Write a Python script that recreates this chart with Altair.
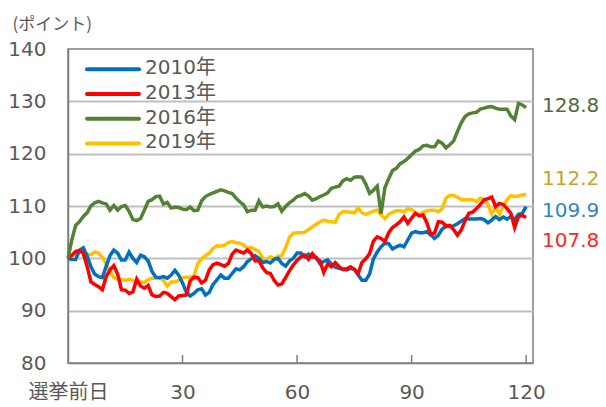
import altair as alt
import pandas as pd

days = list(range(121))

s2010 = [100.0, 99.8, 99.8, 101.5, 102.0, 100.5, 98.4, 97.0, 96.5, 96.3,
         98.5, 100.5, 101.6, 101.0, 99.7, 99.7, 101.2, 100.0, 99.2, 100.6,
         100.3, 99.5, 97.5, 96.4, 96.3, 96.5, 96.2, 96.8, 97.7, 96.8,
         95.3, 93.5, 92.8, 93.3, 94.0, 94.2, 93.0, 93.5, 95.0, 95.9,
         96.8, 96.2, 96.2, 97.1, 98.0, 97.8, 98.4, 99.4, 99.9, 100.5,
         100.0, 99.2, 99.4, 99.1, 99.8, 100.0, 99.0, 98.5, 99.5, 100.0,
         101.0, 101.0, 100.3, 100.8, 100.2, 100.2, 99.0, 99.4, 99.7, 98.9,
         98.3, 98.1, 97.9, 97.8, 98.1, 97.9, 96.8, 95.8, 95.8, 97.0,
         99.9, 101.2, 102.2, 102.9, 102.8, 101.8, 102.2, 102.5, 102.2, 103.5,
         104.8, 105.1, 104.9, 104.9, 105.1, 104.5, 103.8, 104.4, 105.6, 106.1,
         106.1, 106.2, 106.6, 107.1, 107.6, 107.5, 107.5, 107.5, 107.6, 107.4,
         106.8, 107.3, 108.0, 107.4, 107.9, 107.5, 108.0, 107.4, 108.4, 108.6,
         109.9]

s2013 = [100.0, 100.6, 101.3, 101.5, 101.0, 98.5, 95.5, 95.0, 94.6, 94.0,
         96.5, 97.8, 98.6, 97.0, 94.0, 93.9, 93.3, 93.6, 96.0, 94.7,
         94.3, 94.8, 93.0, 92.7, 92.8, 93.5, 93.3, 92.7, 92.1, 92.8,
         92.9, 93.0, 95.7, 96.4, 96.3, 95.3, 95.8, 97.8, 98.8, 99.1,
         98.8, 98.5, 99.0, 100.8, 101.6, 101.3, 101.0, 101.6, 100.9, 99.5,
         99.6, 98.2, 97.3, 97.1, 95.8, 94.9, 95.1, 96.3, 97.6, 98.7,
         99.6, 100.3, 100.6, 99.8, 100.9, 100.0, 99.5, 97.3, 98.9, 98.4,
         99.2, 98.4, 97.9, 98.0, 98.4, 97.9, 97.1, 99.2, 99.9, 100.9,
         103.3, 104.1, 103.8, 103.2, 104.9, 105.9, 106.4, 107.0, 107.9, 106.7,
         107.7, 108.6, 108.1, 108.3, 106.8, 104.6, 104.8, 107.0, 106.9, 106.2,
         106.3, 105.5, 104.4, 105.4, 107.2, 108.6, 108.8, 109.5, 110.3, 111.2,
         111.4, 111.7, 109.9, 110.5, 110.3, 109.5, 108.6, 105.9, 108.0, 108.2,
         107.8]

s2016 = [100.0, 103.5, 106.3, 107.0, 108.0, 108.7, 110.0, 110.6, 110.9, 110.6,
         110.4, 109.2, 110.1, 109.2, 109.9, 110.1, 109.0, 107.4, 107.2, 107.6,
         109.2, 110.9, 111.2, 111.8, 111.9, 110.4, 110.7, 109.6, 109.8, 109.7,
         109.4, 109.3, 109.8, 109.1, 109.2, 111.0, 111.8, 112.2, 112.5, 112.8,
         113.1, 112.9, 112.6, 112.4, 111.5, 110.8, 110.2, 108.9, 109.2, 109.2,
         111.0, 109.8, 110.0, 109.8, 109.9, 110.4, 109.0, 109.9, 110.6, 111.1,
         111.8, 112.0, 112.4, 111.9, 111.1, 111.4, 111.8, 112.1, 112.5, 113.4,
         113.6, 113.8, 114.8, 115.2, 114.9, 115.5, 115.6, 115.5, 114.2, 112.4,
         113.0, 113.8, 108.5, 113.5, 115.2, 116.8, 117.2, 118.1, 118.5, 119.1,
         119.8, 120.5, 120.8, 121.5, 121.6, 121.3, 121.3, 122.4, 122.0, 121.1,
         121.7, 122.4, 124.2, 125.9, 127.1, 127.6, 127.8, 127.9, 128.5, 128.7,
         128.9, 129.0, 128.7, 128.5, 128.5, 128.5, 127.2, 126.5, 129.6, 129.3,
         128.8]

s2019 = [100.0, 100.4, 101.0, 101.3, 101.0, 100.8, 100.7, 101.2, 101.0, 100.2,
         99.0, 97.5, 96.3, 96.0, 96.0, 95.8, 96.0, 95.8, 95.3, 95.5,
         95.4, 95.9, 96.2, 96.2, 96.3, 95.8, 94.7, 95.5, 95.5, 95.8,
         96.3, 96.4, 96.4, 96.6, 99.0, 99.9, 100.5, 101.0, 101.9, 102.4,
         102.3, 102.5, 103.0, 103.2, 103.0, 102.9, 102.5, 102.0, 102.1, 101.7,
         101.3, 100.0, 99.7, 100.3, 99.9, 100.4, 100.5, 102.0, 104.0, 104.8,
         104.9, 104.9, 105.0, 105.5, 106.0, 106.5, 107.0, 107.3, 107.1, 107.0,
         106.9, 108.4, 108.9, 108.9, 108.8, 108.7, 109.6, 108.7, 108.4, 108.7,
         109.0, 109.2, 108.3, 107.6, 108.4, 108.8, 109.1, 109.1, 108.9, 109.5,
         109.3, 108.7, 108.3, 108.8, 109.1, 109.2, 109.2, 108.9, 109.5, 111.5,
         112.0, 112.0, 111.7, 111.2, 111.2, 111.2, 111.2, 110.8, 111.5, 111.3,
         110.3, 108.4, 109.8, 108.4, 109.9, 111.2, 112.0, 111.8, 111.9, 112.1,
         112.2]

series_names = ["2010年", "2013年", "2016年", "2019年"]
series_colors = ["#0070C0", "#FF0000", "#548235", "#FFC000"]
draw_order = ["2019年", "2010年", "2013年", "2016年"]  # bottom to top

x_ticks = [0, 30, 60, 90, 120]
y_ticks = [80, 90, 100, 110, 120, 130, 140]

end_labels = ["128.8", "112.2", "109.9", "107.8"]
end_label_y = [129.2, 115.2, 109.1, 103.3]
end_label_colors = ["#4F6B38", "#C9A227", "#2E86C8", "#FF2525"]

series_data = dict(zip(series_names, [s2010, s2013, s2016, s2019]))

FONT = "DejaVu Sans, Noto Sans CJK JP"
GRAY = "#595959"

x_scale = alt.Scale(domain=[0, 121.8], nice=False, zero=False)
y_scale = alt.Scale(domain=[80, 140], nice=False, zero=False)
color_scale = alt.Scale(domain=series_names, range=series_colors)

x_axis = alt.Axis(values=x_ticks, title=None, grid=False, ticks=False,
                  labelFlush=False, labelOverlap=False,
                  labelExpr="datum.value == 0 ? '選挙前日' : datum.label",
                  labelFontSize=20, labelFont=FONT, labelColor=GRAY,
                  labelPadding=19, domainColor="#7F7F7F", domainWidth=1.5)
y_axis = alt.Axis(values=y_ticks, ticks=False, labelFontSize=20,
                  labelFont=FONT, labelColor=GRAY, labelPadding=22,
                  domainColor="#7F7F7F", domainWidth=1.5,
                  gridColor="#BFBFBF", gridWidth=2,
                  gridOpacity={"condition": {"test": "datum.value == 80 || datum.value == 140", "value": 0}, "value": 1},
                  title="(ポイント)", titleAngle=0, titleAlign="left",
                  titleBaseline="middle", titleX=-56, titleY=-25,
                  titleFont="Noto Sans CJK JP", titleFontSize=17,
                  titleFontWeight="normal", titleColor=GRAY)

line_layers = []
for name in draw_order:
    sdf = pd.DataFrame({"day": days, "value": series_data[name], "series": name})
    line_layers.append(
        alt.Chart(sdf).mark_line(strokeWidth=3.5).encode(
            x=alt.X("day:Q", scale=x_scale, axis=x_axis),
            y=alt.Y("value:Q", scale=y_scale, axis=y_axis),
            color=alt.Color("series:N", scale=color_scale, legend=None),
        )
    )

# legend drawn as layers (row index -> pixel offset)
leg_df = pd.DataFrame({"series": series_names, "idx": list(range(len(series_names)))})
leg_base = alt.Chart(leg_df).transform_calculate(py="20.3 + datum.idx * 24.7")
leg_sym = leg_base.mark_rule(strokeWidth=4, strokeCap="round").encode(
    x=alt.value(19), x2=alt.value(71),
    y=alt.Y("py:Q", scale=None),
    color=alt.Color("series:N", scale=color_scale, legend=None),
)
leg_txt = leg_base.mark_text(align="left", baseline="middle", fontSize=20, font=FONT,
                             color=GRAY, dy=-1).encode(
    x=alt.value(77),
    y=alt.Y("py:Q", scale=None),
    text="series:N",
)

tick_df = pd.DataFrame({"day": x_ticks[1:]})
ticks = alt.Chart(tick_df).mark_rule(color="#7F7F7F", strokeWidth=1.5).encode(
    x=alt.X("day:Q", scale=x_scale, axis=x_axis),
    y=alt.value(306),
    y2=alt.value(314),
)

lab_df = pd.DataFrame({"label": end_labels, "y": end_label_y, "c": end_label_colors})
labels = alt.Chart(lab_df).mark_text(align="left", baseline="middle", fontSize=20,
                                     font=FONT).encode(
    x=alt.value(474),
    y=alt.Y("y:Q", scale=y_scale, axis=y_axis),
    text="label:N",
    color=alt.Color("c:N", scale=None),
)

chart = alt.layer(*line_layers, ticks, labels, leg_sym, leg_txt).properties(
    width=465, height=314,
    autosize=alt.AutoSizeParams(type="none"),
    padding={"left": 60, "top": 41, "right": 65, "bottom": 42},
).configure_view(stroke="#7F7F7F", strokeWidth=1.5)

chart.save("out.html", embed_options={"renderer": "svg", "actions": False})
